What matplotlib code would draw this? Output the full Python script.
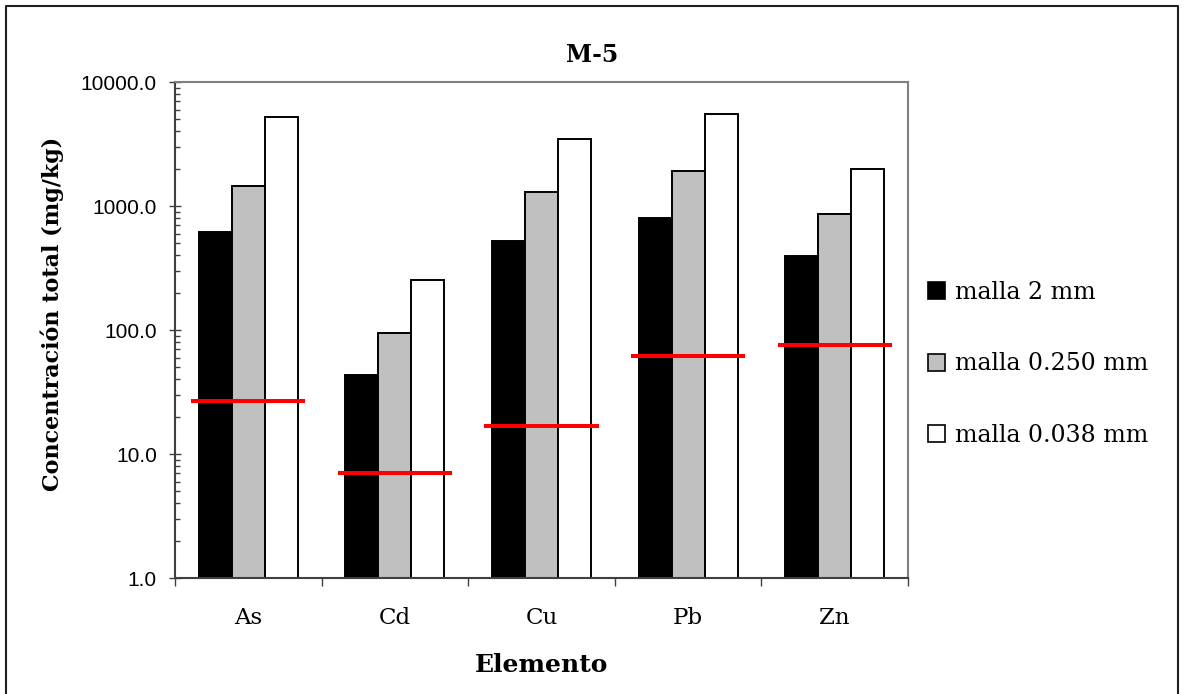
import numpy as np
import matplotlib
matplotlib.use('Agg')
import matplotlib.pyplot as plt
from matplotlib.ticker import FixedLocator, LogLocator, FuncFormatter, NullFormatter
from matplotlib.lines import Line2D
from matplotlib.patches import Patch

# data
elementos = ['As', 'Cd', 'Cu', 'Pb', 'Zn']
malla_2mm = [617, 43.1, 525, 805, 393]
malla_0250mm = [1458, 95, 1304, 1905, 857]
malla_0038mm = [5250, 253, 3468, 5490, 1977]
limite = [26.9, 7.0, 16.9, 62.1, 76.1]
series_labels = ['malla 2 mm', 'malla 0.250 mm', 'malla 0.038 mm']
series_colors = ['#000000', '#C0C0C0', '#FFFFFF']

serif = ['DejaVu Serif']
sans = ['Liberation Sans', 'DejaVu Sans']

fig = plt.figure(figsize=(11.84, 6.94), dpi=100)
ax = fig.add_axes([175/1184, 1-578/694, (908-175)/1184, (578-82)/694])

x = np.arange(len(elementos))
w = 0.225
for k, vals in enumerate([malla_2mm, malla_0250mm, malla_0038mm]):
    ax.bar(x + (k-1)*w, vals, width=w, color=series_colors[k], edgecolor='black',
           linewidth=1.4, bottom=0, zorder=2)
ax.hlines(limite, x - 0.39, x + 0.39, color='#FF0000', linewidth=2.9, zorder=3)

ax.set_yscale('log')
ax.set_ylim(1, 10000)
ax.set_xlim(-0.5, len(elementos) - 0.5)

ax.yaxis.set_major_locator(FixedLocator([1, 10, 100, 1000, 10000]))
ax.yaxis.set_major_formatter(FuncFormatter(lambda v, p: '%.1f' % v))
ax.yaxis.set_minor_locator(LogLocator(base=10, subs=np.arange(2, 10)))
ax.yaxis.set_minor_formatter(NullFormatter())
ax.tick_params(axis='y', which='major', direction='inout', length=8, width=1,
               color='#404040', labelsize=15, pad=9)
ax.tick_params(axis='y', which='minor', direction='in', length=3.6, width=1,
               color='#404040')
for t in ax.get_yticklabels():
    t.set_family(sans)

ax.set_xticks(x)
ax.set_xticklabels(elementos, family=serif, fontsize=16.5)
ax.set_xticks(np.arange(-0.5, len(elementos)), minor=True)
ax.tick_params(axis='x', which='major', length=0, pad=21)
ax.tick_params(axis='x', which='minor', direction='out', length=5.5, width=1,
               color='#404040')

for s in ['left', 'bottom']:
    ax.spines[s].set_color('#404040')
    ax.spines[s].set_linewidth(1.5)
for s in ['top', 'right']:
    ax.spines[s].set_color('#808080')
    ax.spines[s].set_linewidth(1.5)

ax.set_xlabel('Elemento', family=serif, fontweight='bold', fontsize=18, labelpad=17)
fig.text(52/1184, 1-314/694, 'Concentración total (mg/kg)', family=serif,
         fontweight='bold', fontsize=16, rotation=90, ha='center', va='center')
fig.text(592/1184, 1-55/694, 'M-5', family=serif, fontweight='bold', fontsize=17,
         ha='center', va='center')

handles = [Patch(facecolor=c, edgecolor='black', linewidth=1.2) for c in series_colors]
leg = fig.legend(handles, series_labels, loc='center left',
                 bbox_to_anchor=(928/1184, 1-364/694), frameon=False,
                 prop={'family': serif, 'size': 17}, handlelength=0.72,
                 handleheight=0.72, handletextpad=0.42, labelspacing=2.05,
                 borderpad=0, borderaxespad=0)

# outer chart border
fig.add_artist(Line2D([6/1184, 6/1184, 1178/1184, 1178/1184],
                      [-0.1, 1-6/694, 1-6/694, -0.1], color='#202020',
                      linewidth=1.5, transform=fig.transFigure))

fig.savefig('out.png', dpi=100, facecolor='white')
